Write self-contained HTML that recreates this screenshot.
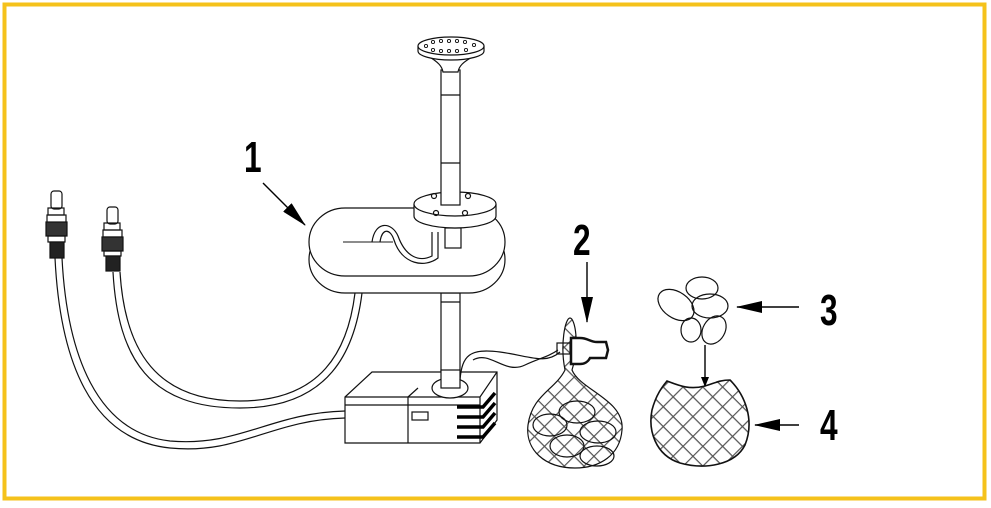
<!DOCTYPE html>
<html><head><meta charset="utf-8"><style>
html,body{margin:0;padding:0;background:#fff;width:991px;height:508px;overflow:hidden}
.n{font-family:"Liberation Sans",sans-serif;font-weight:bold;font-size:44px;fill:#000}
</style></head><body>
<svg width="991" height="508" viewBox="0 0 991 508" xmlns="http://www.w3.org/2000/svg">
<defs>
<pattern id="net" width="14" height="14" patternUnits="userSpaceOnUse" patternTransform="rotate(45)">
<rect width="14" height="14" fill="#fff"/>
<path d="M0 0H14M0 0V14" stroke="#555" stroke-width="2.4"/>
</pattern>
<marker id="ah" markerWidth="10" markerHeight="8" refX="9" refY="4" orient="auto" markerUnits="userSpaceOnUse">
<path d="M0 0L10 4L0 8Z" fill="#000"/>
</marker>
<marker id="ahb" markerWidth="26" markerHeight="12" refX="25" refY="6" orient="auto" markerUnits="userSpaceOnUse">
<path d="M0 0L26 6L0 12Z" fill="#000"/>
</marker>
</defs>
<rect x="4.5" y="4.5" width="980" height="494" fill="none" stroke="#f5c21b" stroke-width="4"/>
<g fill="none" stroke="#111" stroke-width="1.2">
<path d="M55 258 C60 360 90 440 170 448 C240 455 270 420 345 418"/>
<path d="M62 258 C67 355 97 433 170 441 C240 447 270 413 345 411"/>
<path d="M113 272 C118 360 150 408 240 408 C330 408 355 350 362 293"/>
<path d="M120 272 C125 352 157 401 240 401 C322 401 348 350 355 293"/>
<rect x="51" y="191" width="11" height="18" rx="3"/>
<rect x="48" y="208" width="16" height="7"/>
<rect x="47" y="215" width="19" height="8"/>
<rect x="46" y="222" width="21" height="14" fill="#333"/>
<rect x="48" y="236" width="17" height="6"/>
<rect x="50" y="242" width="14" height="16" fill="#222"/>
<rect x="107" y="207" width="11" height="17" rx="3"/>
<rect x="104" y="223" width="16" height="7"/>
<rect x="103" y="230" width="19" height="7"/>
<rect x="102" y="237" width="21" height="14" fill="#333"/>
<rect x="104" y="251" width="17" height="5"/>
<rect x="106" y="256" width="14" height="15" fill="#222"/>
<rect x="441" y="293" width="19" height="90" fill="#fff"/>
<line x1="441" y1="302" x2="460" y2="302"/>
<path d="M345 397 L372 372 L497 372 L497 420 L480 443 L345 443 Z" fill="#fff"/>
<path d="M345 397 L480 397 L497 372 M480 397 L480 443 M345 405 L480 405"/>
<path d="M408 397 L408 443 M408 397 L418 388"/>
<rect x="412" y="412" width="16" height="8"/>
<ellipse cx="450" cy="388" rx="18" ry="10" fill="#fff"/>
<rect x="441" y="370" width="19" height="18" fill="#fff"/>
<path d="M460 380 C462 355 470 348 500 352 C530 356 545 365 560 352"/>
<g stroke="#000" stroke-width="3.5"><path d="M457 407h26l12-14M457 417h26l12-14M457 427h26l12-14M457 437h26l12-14"/></g>
<rect x="309" y="226" width="196" height="67" rx="36" fill="#fff"/>
<rect x="309" y="208" width="196" height="68" rx="36" fill="#fff"/>
<line x1="343" y1="242" x2="393" y2="242" stroke="#666" stroke-width="1.5"/>
<path d="M372 242 C375 220 392 222 398 236 C406 258 420 262 432 256 L432 232"/>
<path d="M380 242 C382 228 390 228 394 240 C402 265 425 268 438 258 L438 232"/>
<rect x="445" y="228" width="16" height="20" fill="#fff"/>
<path d="M414 204 L414 216 A41 12 0 0 0 496 216 L496 204" fill="#fff"/>
<ellipse cx="455" cy="204" rx="41" ry="12" fill="#fff"/>
<circle cx="434" cy="196" r="2.5"/><circle cx="468" cy="196" r="2.5"/>
<circle cx="436" cy="213" r="2.5"/><circle cx="465" cy="213" r="2.5"/>
<rect x="441" y="70" width="19" height="135" fill="#fff"/>
<line x1="441" y1="95" x2="460" y2="95"/><line x1="441" y1="163" x2="460" y2="163"/>
<path d="M428 56 C438 62 442 66 443 72 L458 72 C459 66 463 62 474 56" fill="#fff"/>
<path d="M418 46 L418 51 A33 9 0 0 0 484 51 L484 46" fill="#fff"/>
<ellipse cx="451" cy="46" rx="33" ry="9" fill="#fff"/>
<g stroke-width="0.9">
<circle cx="426" cy="46" r="1.6"/><circle cx="433" cy="42" r="1.6"/><circle cx="441" cy="41" r="1.6"/><circle cx="449" cy="41" r="1.6"/><circle cx="457" cy="41" r="1.6"/><circle cx="465" cy="42" r="1.6"/><circle cx="474" cy="45" r="1.6"/>
<circle cx="433" cy="50" r="1.6"/><circle cx="441" cy="51" r="1.6"/><circle cx="449" cy="51" r="1.6"/><circle cx="457" cy="51" r="1.6"/><circle cx="466" cy="50" r="1.6"/>
</g>
<path d="M565 370 C560 345 565 318 570 318 C575 318 580 345 572 370 C580 390 625 400 622 430 C620 455 600 468 575 468 C545 468 525 450 528 425 C532 395 555 390 565 370Z" fill="url(#net)"/>
<g stroke="#111"><ellipse cx="577" cy="412" rx="18" ry="11"/><ellipse cx="550" cy="425" rx="17" ry="11"/><ellipse cx="598" cy="432" rx="18" ry="11"/><ellipse cx="567" cy="446" rx="17" ry="11"/><ellipse cx="597" cy="456" rx="17" ry="10"/></g>
<path d="M473 360 C490 350 505 375 525 365 C540 358 548 357 558 350"/>
<rect x="557" y="343" width="13" height="11"/>
<path d="M571 338 L580 338 C588 338 590 342 597 342 L606 342 L608 350 L606 358 L590 358 C588 362 584 364 580 364 L571 364 Z" stroke-width="2.5" fill="#fff"/>
<ellipse cx="702" cy="288" rx="16" ry="11"/>
<ellipse cx="676" cy="305" rx="20" ry="13" transform="rotate(35 676 305)"/>
<ellipse cx="710" cy="306" rx="18" ry="12"/>
<ellipse cx="691" cy="330" rx="10" ry="12"/>
<ellipse cx="714" cy="330" rx="11" ry="15" transform="rotate(30 714 330)"/>
<path d="M667 381 C680 386 690 390 705 386 C715 383 720 380 730 380 C745 395 755 420 745 445 C735 465 705 470 680 463 C655 455 648 430 652 410 C656 395 662 387 667 381Z" fill="url(#net)" stroke-width="1.6"/>
</g>
<g stroke="#000" stroke-width="1.4" fill="none">
<line x1="263" y1="183" x2="305" y2="225" marker-end="url(#ahb)"/>
<line x1="587" y1="262" x2="587" y2="322" marker-end="url(#ahb)"/>
<line x1="799" y1="307" x2="737" y2="307" marker-end="url(#ahb)"/>
<line x1="799" y1="425" x2="755" y2="425" marker-end="url(#ahb)"/>
<line x1="705" y1="345" x2="705" y2="386" marker-end="url(#ah)"/>
</g>
<g class="n">
<text x="0" y="0" transform="translate(244 172) scale(0.72 1)">1</text>
<text x="0" y="0" transform="translate(573 255) scale(0.72 1)">2</text>
<text x="0" y="0" transform="translate(820 325) scale(0.72 1)">3</text>
<text x="0" y="0" transform="translate(820 440) scale(0.72 1)">4</text>
</g>
</svg>
</body></html>
